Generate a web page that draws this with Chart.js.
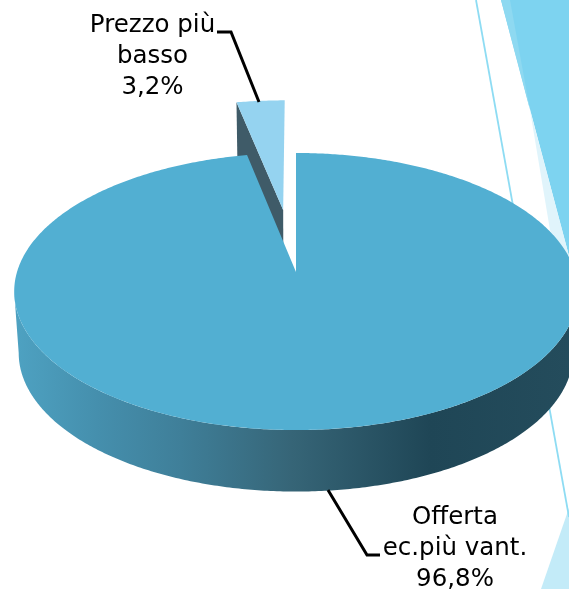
<!DOCTYPE html>
<html>
<head>
<meta charset="utf-8">
<style>html,body{margin:0;padding:0;background:#fff;overflow:hidden}canvas{display:block}</style>
<script src="https://cdn.jsdelivr.net/npm/chart.js@4"></script>
</head>
<body>
<canvas id="c" width="569" height="589" style="width:569px;height:589px"></canvas>
<script>
const categories = ["Offerta ec.più vant.", "Prezzo più basso"];
const values = [96.8, 3.2];
const labelLines = [["Offerta", "ec.più vant."], ["Prezzo più", "basso"]];
const topColors = ["#52afd2", "#95d3f0"];

// projection of the tilted disc on the page
const CX = 296, R = 279, B = 272, A = 97.5, K = -0.1408, DEPTH = 61.5, BASE = 0.984, SMALL_SCALE = 1.05;
function proj(u, v, low) {
  const w = 1 + K * v;
  let x = R * u / w, y = (A * v + B) / w;
  if (low) { x *= BASE; y += DEPTH; }
  return [CX + x, y];
}
function arcPts(a0, a1, dx, dy, low, scale) {
  const s = scale || 1;
  const pts = [], n = Math.max(2, Math.ceil(Math.abs(a1 - a0) / 0.01));
  for (let i = 0; i <= n; i++) {
    const t = a0 + (a1 - a0) * i / n;
    pts.push(proj(dx + s * Math.cos(t), dy + s * Math.sin(t), low));
  }
  return pts;
}
function fillPoly(ctx, pts, fill) {
  ctx.beginPath();
  pts.forEach((p, i) => i ? ctx.lineTo(p[0], p[1]) : ctx.moveTo(p[0], p[1]));
  ctx.closePath();
  ctx.fillStyle = fill;
  ctx.fill();
}
function line(ctx, pts) {
  ctx.beginPath();
  pts.forEach((p, i) => i ? ctx.lineTo(p[0], p[1]) : ctx.moveTo(p[0], p[1]));
  ctx.strokeStyle = "#000"; ctx.lineWidth = 3; ctx.lineJoin = "miter"; ctx.stroke();
}
const backdrop = {
  id: "backdrop",
  beforeDraw(chart) {
    const ctx = chart.ctx;
    fillPoly(ctx, [[0,0],[569,0],[569,589],[0,589]], "#fff");
    fillPoly(ctx, [[501,0],[569,0],[569,256]], "#7dd3f0");
    fillPoly(ctx, [[501,0],[510,0],[530,110]], "#8ed9f1");
    fillPoly(ctx, [[530,110],[550,230],[569,270],[569,256]], "#e0f4fb");
    fillPoly(ctx, [[541,589],[569,508],[569,589]], "#c3ebf8");
    ctx.beginPath(); ctx.moveTo(476,0); ctx.lineTo(569,517);
    ctx.strokeStyle = "#8edcf3"; ctx.lineWidth = 1.8; ctx.stroke();
  }
};
const disc3d = {
  id: "disc3d",
  beforeDatasetsDraw(chart) {
    const ctx = chart.ctx, arcs = chart.getDatasetMeta(0).data;
    const geo = arcs.map(a => {
      const mid = (a.startAngle + a.endAngle) / 2, off = (a.options.offset || 0) / a.outerRadius;
      return { a, dx: off * Math.cos(mid), dy: off * Math.sin(mid) };
    });
    const main = geo[0], small = geo[1];
    // wall of the detached slice
    const sx = small.dx + SMALL_SCALE * Math.cos(small.a.startAngle), sy = small.dy + SMALL_SCALE * Math.sin(small.a.startAngle);
    const s0 = proj(sx, sy), s1 = proj(small.dx, small.dy);
    const s0l = proj(sx, sy, true), s1l = proj(small.dx, small.dy, true);
    fillPoly(ctx, [s0, s1, s1l, s0l], "#3f5b68");
    // wall of the large slice
    const grad = ctx.createLinearGradient(14, 0, 569, 0);
    grad.addColorStop(0, "#4ea2c2");
    grad.addColorStop(0.15, "#458fad");
    grad.addColorStop(0.3, "#3f7f99");
    grad.addColorStop(0.5, "#366577");
    grad.addColorStop(0.75, "#1f4656");
    grad.addColorStop(1, "#244c5c");
    const edge = Math.asin(-K);
    const top = arcPts(edge, Math.PI - edge, 0, 0, false);
    const low = arcPts(Math.PI - edge, edge, 0, 0, true);
    fillPoly(ctx, top.concat(low), grad);
    // faces
    fillPoly(ctx, [s1].concat(arcPts(small.a.startAngle, small.a.endAngle, small.dx, small.dy, false, SMALL_SCALE)), topColors[1]);
    fillPoly(ctx, [proj(0, 0)].concat(arcPts(main.a.startAngle, main.a.endAngle, 0, 0)), topColors[0]);
    return false;
  },
  afterDraw(chart) {
    const ctx = chart.ctx;
    line(ctx, [[217,32],[231,32],[259,102]]);
    line(ctx, [[328,490],[367,555],[380,555]]);
    ctx.fillStyle = "#000";
    ctx.font = "24.5px 'DejaVu Sans'";
    ctx.textAlign = "center"; ctx.textBaseline = "alphabetic";
    const fmt = v => v.toFixed(1).replace(".", ",") + "%";
    const draw = (lines, v, x, y) => {
      lines.concat([fmt(v)]).forEach((t, i) => ctx.fillText(t, x, y + i * 30.8));
    };
    draw(labelLines[1], values[1], 152.5, 32);
    draw(labelLines[0], values[0], 455, 524);
  }
};
new Chart(document.getElementById("c"), {
  type: "pie",
  data: {
    labels: categories,
    datasets: [{ data: values, backgroundColor: topColors, borderWidth: 0, offset: [0, 112] }]
  },
  options: {
    responsive: false,
    animation: false,
    layout: { padding: 0 },
    plugins: { legend: { display: false }, tooltip: { enabled: false } }
  },
  plugins: [backdrop, disc3d]
});
</script>
</body>
</html>
